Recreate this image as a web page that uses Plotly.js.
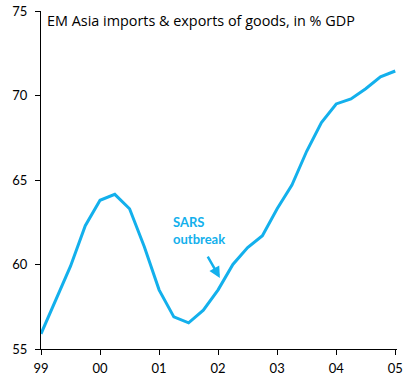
<!DOCTYPE html>
<html>
<head>
<meta charset="utf-8">
<script src="https://cdn.plot.ly/plotly-3.0.1.min.js"></script>
<style>html,body{margin:0;padding:0;background:#fff;}#chart{width:405px;height:380px;}</style>
</head>
<body>
<div id="chart"></div>
<script>
// Quarterly positions (year + quarter fraction), 1999Q1 .. 2005Q1
const quarters = [1999.00, 1999.25, 1999.50, 1999.75,
                  2000.00, 2000.25, 2000.50, 2000.75,
                  2001.00, 2001.25, 2001.50, 2001.75,
                  2002.00, 2002.25, 2002.50, 2002.75,
                  2003.00, 2003.25, 2003.50, 2003.75,
                  2004.00, 2004.25, 2004.50, 2004.75,
                  2005.00];
const tradeShare = [55.9, 57.9, 59.9, 62.3,
                    63.8, 64.15, 63.3, 61.05,
                    58.5, 56.9, 56.55, 57.3,
                    58.5, 60.0, 61.0, 61.7,
                    63.3, 64.7, 66.7, 68.4,
                    69.5, 69.8, 70.4, 71.1,
                    71.45];
const tickYears = [1999, 2000, 2001, 2002, 2003, 2004, 2005];
const tickLabels = ['99', '00', '01', '02', '03', '04', '05'];
const yTicks = [55, 60, 65, 70, 75];

const blue = '#13B0EC';
const font = "Lato, 'Open Sans', sans-serif";
const titleFont = "'Open Sans', Lato, sans-serif";

const trace = {
  x: quarters, y: tradeShare, type: 'scatter', mode: 'lines',
  line: {color: blue, width: 3}, hoverinfo: 'skip'
};

const layout = {
  width: 405, height: 380,
  margin: {l: 41, r: 8, t: 11, b: 31},
  paper_bgcolor: '#fff', plot_bgcolor: '#fff',
  showlegend: false,
  font: {family: font, size: 13, color: '#000'},
  xaxis: {
    range: [1999, 2005.03], tickvals: tickYears, ticktext: tickLabels,
    showgrid: false, zeroline: false, showline: true, linecolor: '#000', linewidth: 1,
    ticks: 'outside', ticklen: 5, tickcolor: '#000', tickfont: {size: 13, family: font},
    ticklabelstandoff: 2
  },
  yaxis: {
    range: [55, 75], tickvals: yTicks,
    showgrid: false, zeroline: false, showline: true, linecolor: '#000', linewidth: 1,
    ticks: 'outside', ticklen: 5, tickcolor: '#000', tickfont: {size: 13, family: font},
    ticklabelstandoff: 5
  },
  annotations: [
    {xref: 'paper', yref: 'paper', x: 0.01, y: 1.005, xanchor: 'left', yanchor: 'top',
     text: 'EM Asia imports &amp; exports of goods, in % GDP', showarrow: false,
     font: {size: 14.4, family: titleFont, color: '#000'}},
    {x: 2001.68, y: 62.04, xref: 'x', yref: 'y', text: '<b>SARS<br>outbreak</b>', showarrow: false,
     align: 'left', font: {size: 13, family: font, color: blue}},
    {x: 2002.03, y: 59.2, xref: 'x', yref: 'y', text: '', showarrow: true,
     ax: -13, ay: -23, arrowcolor: blue, arrowwidth: 2.5, arrowhead: 2, arrowsize: 0.9, standoff: 0}
  ]
};

Plotly.newPlot('chart', [trace], layout, {displayModeBar: false, staticPlot: true});
</script>
</body>
</html>
